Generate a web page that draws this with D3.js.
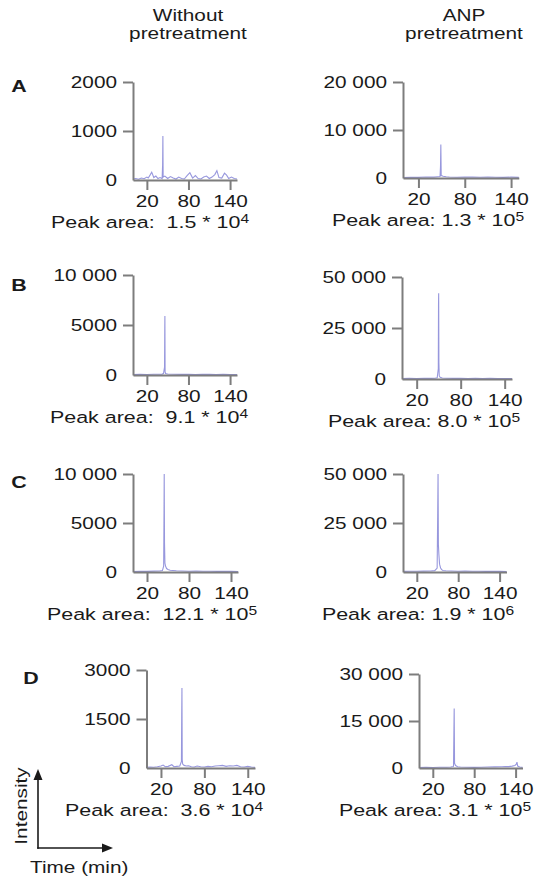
<!DOCTYPE html>
<html>
<head>
<meta charset="utf-8">
<script src="https://cdn.jsdelivr.net/npm/d3@7"></script>
<style>
  html, body { margin: 0; padding: 0; background: #fff; }
  svg { display: block; }
  text { font-family: "Liberation Sans", Arial, Helvetica, sans-serif; fill: #1a1a1a; }
</style>
</head>
<body>
<svg id="chart" width="535" height="878"></svg>
<script>
// ---------------- DATA ----------------
const columnTitles = [["Without", "pretreatment"], ["ANP", "pretreatment"]];
const rowLabels = ["A", "B", "C", "D"];
const xTicks = [20, 80, 140];

// chromatogram traces: time (min) and intensity
const leftA_t = [0,4,8,12,16,20,22,25,27,30,33,36,39,42,42.7,43.1,43.5,46,50,54,58,62,66,70,74,78,82,86,90,94,98,102,106,110,114,118,121,124,128,132,135,138,142,146,150];
const leftA_v = [20,30,15,40,25,60,40,110,160,50,80,30,50,30,300,900,60,80,30,70,40,20,60,30,20,90,150,40,90,30,20,60,80,30,60,110,190,50,40,140,100,30,60,30,20];
const rightA_t = [0,10,20,30,40,45,48,48.6,49,49.5,52,56,60,70,80,90,100,110,120,130,140,150];
const rightA_v = [100,150,120,200,180,250,300,2500,7000,500,350,250,200,150,220,180,150,200,160,140,180,120];

const leftB_t = [0,10,20,30,38,42,44,45.5,45.8,46,46.3,47,50,60,70,80,90,100,110,120,130,140,150];
const leftB_v = [40,60,50,80,70,90,150,800,4500,5900,300,150,100,70,60,80,50,60,70,50,60,40,50];
const rightB_t = [0,10,20,30,40,45,48,49.5,49.8,50,50.3,50.8,52,55,60,70,80,90,100,110,120,130,140,150];
const rightB_v = [200,300,250,350,300,400,600,5000,36000,42000,8000,1500,800,500,400,300,350,250,300,250,300,200,250,200];

const leftC_t = [0,10,20,30,38,42,43.8,44.3,44.6,45,45.6,46.5,48,50,53,57,62,70,80,90,100,110,120,130,140,150];
const leftC_v = [50,80,60,90,100,150,600,6000,10000,3000,900,600,350,250,180,150,120,100,80,90,70,80,60,70,60,50];
const rightC_t = [0,10,20,30,40,46,49.5,50.3,50.8,51.3,52,53,54.5,56,58,62,70,80,90,100,110,120,130,140,150];
const rightC_v = [300,400,350,450,500,700,2000,30000,50000,14000,9000,4000,2000,1200,800,600,500,400,450,350,400,300,350,300,250];

const leftD_t = [0,5,10,15,20,23,26,30,35,38,42,46,48.3,48.7,49,49.4,50,52,55,58,62,66,70,75,80,85,90,95,100,105,110,115,120,125,130,135,140,145,150];
const leftD_v = [20,30,25,40,60,90,40,50,100,40,50,60,200,1700,2450,250,120,80,60,70,40,30,60,40,30,50,40,60,70,80,50,70,60,80,40,30,50,30,20];
const rightD_t = [0,10,20,30,40,46,50,50.6,51,51.5,53,56,60,70,80,90,100,110,120,125,130,135,139,141,142,143,146,150];
const rightD_v = [150,200,180,250,220,300,500,12000,19000,1500,800,400,300,250,200,250,300,350,400,500,450,600,800,1200,1900,600,300,200];

// y-axis tick values
const yTicksLeft  = [[0,1000,2000],[0,5000,10000],[0,5000,10000],[0,1500,3000]];
const yTicksRight = [[0,10000,20000],[0,25000,50000],[0,25000,50000],[0,15000,30000]];

// peak areas: mantissa and power of ten
const areaLeftMant  = ["1.5", "9.1", "12.1", "3.6"];
const areaLeftExp   = ["4", "4", "5", "4"];
const areaRightMant = ["1.3", "8.0", "1.9", "3.1"];
const areaRightExp  = ["5", "5", "6", "5"];

// ---------------- LAYOUT ----------------
const FS = 16.5, SX = 1.26;
const AXIS = "#7d7d7d", TRACE = "#6f6fd0";

const traces = [
  [leftA_t, leftA_v], [rightA_t, rightA_v],
  [leftB_t, leftB_v], [rightB_t, rightB_v],
  [leftC_t, leftC_v], [rightC_t, rightC_v],
  [leftD_t, leftD_v], [rightD_t, rightD_v]
];
// x0,x1: time axis extent; y0: zero line; y1: top tick; cx: peak-area text centre
const geom = [
  {x0:133, x1:237,   y0:180, y1:82,  cx:150},
  {x0:403, x1:518.8, y0:178, y1:82,  cx:428},
  {x0:133, x1:237,   y0:375, y1:275, cx:149},
  {x0:402, x1:512,   y0:379, y1:277, cx:424},
  {x0:133, x1:238,   y0:572, y1:474, cx:152},
  {x0:403, x1:506.5, y0:572, y1:474, cx:418},
  {x0:146.5, x1:255, y0:768, y1:670, cx:164},
  {x0:419, x1:522.5, y0:768, y1:674, cx:435}
];
const letterPos = [[19,92],[19,291],[19,488],[31,684]];

const svg = d3.select("#chart");

function addText(x, y, str, opts = {}) {
  const t = svg.append("text")
    .attr("transform", `translate(${x},${y}) ${opts.rot ? "rotate(" + opts.rot + ")" : ""} scale(${opts.sx || SX},1)`)
    .attr("text-anchor", opts.anchor || "middle")
    .attr("font-size", opts.size || FS)
    .attr("font-weight", opts.bold ? "bold" : "normal")
    .text(str);
  return t;
}

// column titles
addText(188, 21, columnTitles[0][0]);
addText(188, 39, columnTitles[0][1]);
addText(464, 21, columnTitles[1][0]);
addText(464, 39, columnTitles[1][1]);

// row letters
rowLabels.forEach((l, i) => addText(letterPos[i][0], letterPos[i][1], l, {bold: true, size: 17}));

const fmtTick = v => v >= 10000 ? d3.format(",")(v).replace(/,/g, " ") : String(v);

geom.forEach((g, i) => {
  const row = Math.floor(i / 2), col = i % 2;
  const yTicks = col === 0 ? yTicksLeft[row] : yTicksRight[row];
  const x = d3.scaleLinear().domain([0, 150]).range([g.x0, g.x1]);
  const y = d3.scaleLinear().domain([0, yTicks[yTicks.length - 1]]).range([g.y0, g.y1]);

  // trace
  const [ts, vs] = traces[i];
  const pts = ts.map((t, k) => [t, vs[k]]);
  svg.append("path")
    .datum(pts)
    .attr("fill", "none")
    .attr("stroke", TRACE)
    .attr("stroke-opacity", 0.72)
    .attr("stroke-width", 1.1)
    .attr("d", d3.line().x(d => x(d[0])).y(d => y(d[1])));

  // y axis
  const ya = svg.append("g")
    .attr("transform", `translate(${g.x0},0)`)
    .call(d3.axisLeft(y).tickValues(yTicks).tickSize(10).tickSizeOuter(0).tickFormat(fmtTick));
  ya.select(".domain").attr("stroke", AXIS).attr("stroke-width", 2);
  ya.selectAll(".tick line").attr("stroke", AXIS).attr("stroke-width", 2)
    .attr("display", d => d === 0 ? "none" : null);
  ya.selectAll(".tick text")
    .attr("x", -16 / SX).attr("dy", "0.36em")
    .attr("transform", `scale(${SX},1)`)
    .attr("font-size", FS).attr("font-family", null).attr("fill", "#1a1a1a");

  // x axis
  const xa = svg.append("g")
    .attr("transform", `translate(0,${g.y0})`)
    .call(d3.axisBottom(x).tickValues(xTicks).tickSize(10).tickSizeOuter(0).tickFormat(d3.format("d")));
  xa.select(".domain").attr("stroke", AXIS).attr("stroke-width", 2);
  xa.selectAll(".tick line").attr("stroke", AXIS).attr("stroke-width", 2);
  xa.selectAll(".tick text")
    .attr("y", 27).attr("dy", 0)
    .attr("transform", `scale(${SX},1)`)
    .attr("font-size", FS).attr("font-family", null).attr("fill", "#1a1a1a");

  // peak area label
  const mant = col === 0 ? areaLeftMant[row] : areaRightMant[row];
  const ex = col === 0 ? areaLeftExp[row] : areaRightExp[row];
  const pre = col === 0 ? "Peak area:  " : "Peak area: ";
  const pt = addText(g.cx, g.y0 + 48, null, {sx: 1.3});
  pt.style("white-space", "pre");
  pt.append("tspan").text(pre + mant + " * 10");
  pt.append("tspan").attr("dy", -5.5).attr("font-size", 12).text(ex);
});

// Intensity / Time key
const K = {x: 38, yb: 848, yt: 769, xr: 113};
svg.append("line").attr("x1", K.x).attr("y1", K.yb + 0.75).attr("x2", K.x).attr("y2", K.yt + 8)
  .attr("stroke", "#1a1a1a").attr("stroke-width", 1.6);
svg.append("path").attr("d", `M${K.x},${K.yt} L${K.x - 4.5},${K.yt + 11} L${K.x + 4.5},${K.yt + 11} Z`).attr("fill", "#1a1a1a");
svg.append("line").attr("x1", K.x - 0.8).attr("y1", K.yb).attr("x2", K.xr - 8).attr("y2", K.yb)
  .attr("stroke", "#1a1a1a").attr("stroke-width", 1.6);
svg.append("path").attr("d", `M${K.xr},${K.yb} L${K.xr - 11},${K.yb - 4.5} L${K.xr - 11},${K.yb + 4.5} Z`).attr("fill", "#1a1a1a");
addText(27, 806, "Intensity", {rot: -90});
addText(30, 873, "Time (min)", {anchor: "start"});
</script>
</body>
</html>
